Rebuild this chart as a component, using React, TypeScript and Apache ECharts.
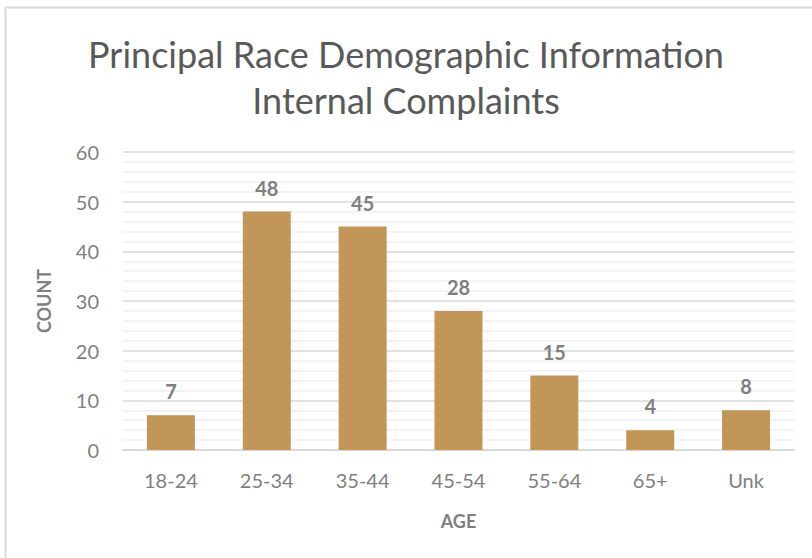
import React, { useEffect, useRef } from "react";
import * as echarts from "echarts";

const categories = ["18-24", "25-34", "35-44", "45-54", "55-64", "65+", "Unk"];
const counts = [7, 48, 45, 28, 15, 4, 8];
const titleLines = ["Principal Race Demographic Information", "Internal Complaints"];
const xName = "AGE";
const yName = "COUNT";

const FONT = "Lato, 'Open Sans', sans-serif";

export default function App() {
  const ref = useRef<HTMLDivElement>(null);
  useEffect(() => {
    if (!ref.current) return;
    const chart = echarts.init(ref.current, undefined, { renderer: "svg" });
    chart.setOption({
      animation: false,
      backgroundColor: "#ffffff",
      title: {
        text: titleLines.join("\n"),
        left: "center",
        top: 26,
        padding: [5, 0, 5, 13],
        textStyle: {
          fontFamily: FONT,
          fontSize: 36,
          fontWeight: "normal",
          color: "#595959",
          lineHeight: 46,
        },
      },
      graphic: [
        { type: "line", shape: { x1: 5, y1: 7.5, x2: 812, y2: 7.5 }, style: { stroke: "#d9d9d9", lineWidth: 2 } },
        { type: "line", shape: { x1: 5.5, y1: 7, x2: 5.5, y2: 558 }, style: { stroke: "#d9d9d9", lineWidth: 2 } },
      ],
      grid: { left: 123, right: 18, top: 152, bottom: 108 },
      xAxis: {
        type: "category",
        data: categories,
        name: xName,
        nameLocation: "middle",
        nameGap: 62,
        nameTextStyle: { fontFamily: FONT, fontSize: 18, fontWeight: "bold", color: "#7f7f7f" },
        axisLine: { show: true, lineStyle: { color: "#d9d9d9", width: 2 } },
        axisTick: { show: false },
        axisLabel: { fontFamily: FONT, fontSize: 20, color: "#7f7f7f", margin: 20 },
      },
      yAxis: {
        type: "value",
        min: 0,
        max: 60,
        interval: 10,
        name: yName,
        nameLocation: "middle",
        nameGap: 70,
        nameTextStyle: { fontFamily: FONT, fontSize: 18, fontWeight: "bold", color: "#7f7f7f" },
        axisLine: { show: false },
        axisTick: { show: false },
        axisLabel: { fontFamily: FONT, fontSize: 20, color: "#7f7f7f", margin: 24 },
        splitLine: { show: true, lineStyle: { color: "#d9d9d9", width: 1.5 } },
        minorTick: { show: false, splitNumber: 5 },
        minorSplitLine: { show: true, lineStyle: { color: "#efefef", width: 1.5 } },
      },
      series: [
        {
          type: "bar",
          data: counts,
          barWidth: 48,
          itemStyle: { color: "#C19658" },
          label: {
            show: true,
            position: "top",
            distance: 14,
            fontFamily: FONT,
            fontSize: 20,
            fontWeight: "bold",
            color: "#7f7f7f",
          },
        },
      ],
    });
    return () => chart.dispose();
  }, []);
  return (
    <div
      ref={ref}
      style={{ position: "fixed", left: 0, top: 0, width: 812, height: 558 }}
    />
  );
}
